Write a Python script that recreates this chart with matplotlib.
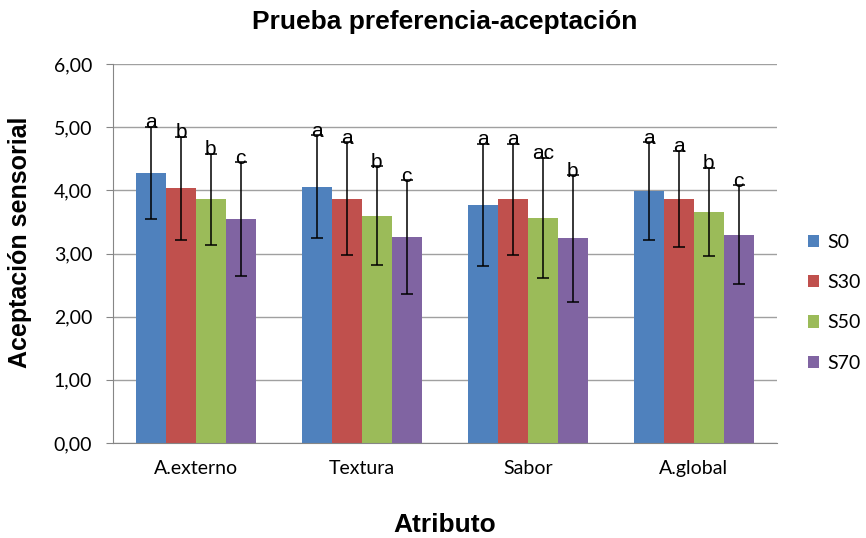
import numpy as np
import matplotlib.pyplot as plt

atributos = ['A.externo', 'Textura', 'Sabor', 'A.global']
series = ['S0', 'S30', 'S50', 'S70']
colores = ['#4f81bd', '#c0504d', '#9bbb59', '#8064a2']

# medias por serie (una por atributo)
s0 = [4.28, 4.06, 3.77, 3.99]
s30 = [4.03, 3.87, 3.86, 3.87]
s50 = [3.86, 3.60, 3.57, 3.66]
s70 = [3.55, 3.26, 3.24, 3.30]

# desviaciones
e0 = [0.73, 0.81, 0.97, 0.77]
e30 = [0.82, 0.89, 0.88, 0.76]
e50 = [0.72, 0.78, 0.95, 0.70]
e70 = [0.90, 0.90, 1.00, 0.78]

# letras de significancia
l0 = ['a', 'a', 'a', 'a']
l30 = ['b', 'a', 'a', 'a']
l50 = ['b', 'b', 'ac', 'b']
l70 = ['c', 'c', 'b', 'c']

medias = [s0, s30, s50, s70]
errores = [e0, e30, e50, e70]
letras = [l0, l30, l50, l70]

plt.rcParams['font.family'] = ['Liberation Sans', 'DejaVu Sans']

fig = plt.figure(figsize=(8.66, 5.38), dpi=100)
ax = fig.add_axes([0.1305, 0.1766, 0.897 - 0.1305, 0.881 - 0.1766])

x = np.arange(len(atributos))
w = 0.18
for i in range(4):
    pos = x + (i - 1.5) * w
    ax.bar(pos, medias[i], w, color=colores[i], label=series[i], zorder=2)
    ax.errorbar(pos, medias[i], yerr=errores[i], fmt='none', ecolor='black',
                elinewidth=1.1, capsize=4, capthick=1.1, zorder=3)
    for j in range(len(atributos)):
        ax.text(pos[j], medias[i][j] + errores[i][j] - 0.09, letras[i][j],
                ha='center', va='bottom', fontsize=15, zorder=4)

ax.set_xlim(-0.5, 3.5)
ax.set_ylim(0, 6)
ax.set_yticks(np.arange(0, 7, 1))
ax.set_yticklabels([('%.2f' % v).replace('.', ',') for v in np.arange(0, 7, 1)],
                   fontsize=14, family='Lato')
ax.set_xticks(x)
ax.set_xticklabels(atributos, fontsize=14, family='Lato')
ax.tick_params(axis='x', length=0, pad=12)
ax.tick_params(axis='y', length=5, color='#868686', pad=10)
ax.yaxis.grid(True, color='#a0a0a0', linewidth=1, zorder=0)
for s in ['top', 'right']:
    ax.spines[s].set_visible(False)
ax.spines['left'].set_color('#868686')
ax.spines['bottom'].set_color('#868686')

ax.set_title('Prueba preferencia-aceptación', fontsize=19, fontweight='bold', pad=25)
ax.set_ylabel('Aceptación sensorial', fontsize=18, fontweight='bold')
ax.yaxis.set_label_coords(-0.122, 0.53)
ax.set_xlabel('Atributo', fontsize=19, fontweight='bold', labelpad=26)

leg = ax.legend(loc='center left', bbox_to_anchor=(1.02, 0.37), frameon=False,
                prop={'family': 'Lato', 'size': 14},
                handlelength=0.6, handleheight=0.6, labelspacing=1.2, handletextpad=0.4)

fig.savefig('out.png', dpi=100)
